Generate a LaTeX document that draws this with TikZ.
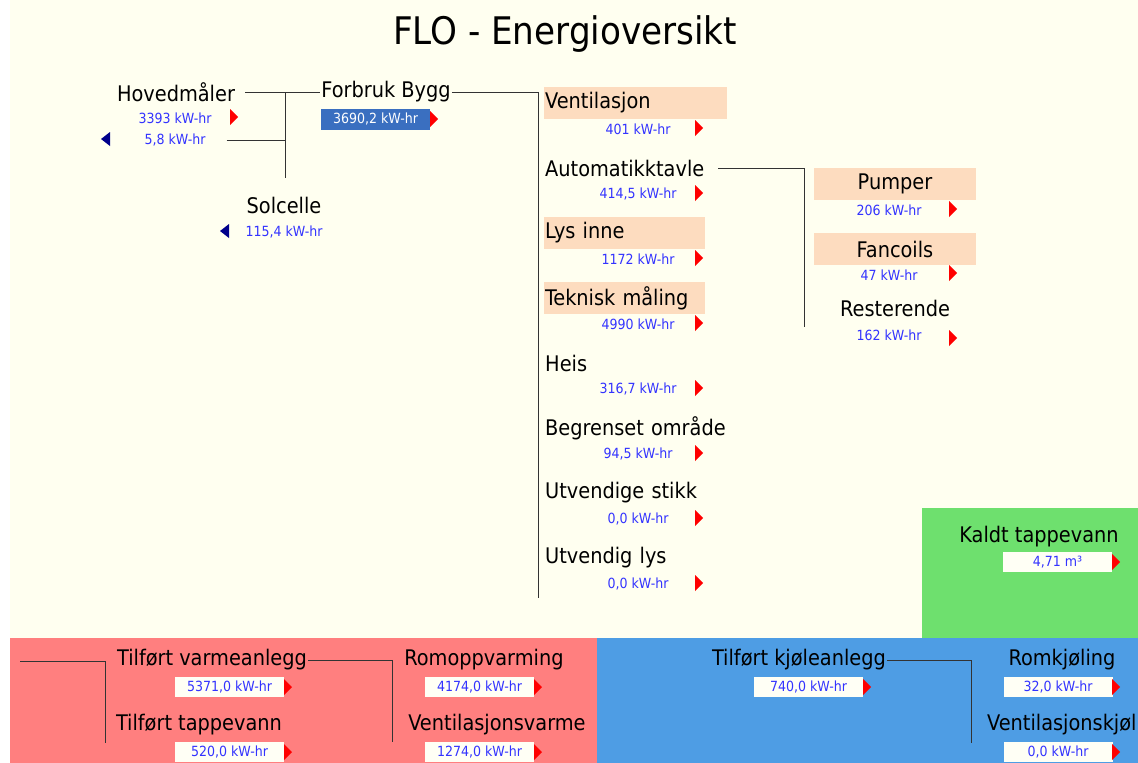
\documentclass[tikz,border=0pt]{standalone}
\usepackage{fontspec}
\setmainfont{DejaVu Sans Condensed}
\definecolor{cream}{HTML}{FFFFF0}
\definecolor{peach}{HTML}{FDDCBF}
\definecolor{byggblue}{HTML}{3A6FC0}
\definecolor{heatred}{HTML}{FF7F7F}
\definecolor{coolblue}{HTML}{4E9DE4}
\definecolor{coldgreen}{HTML}{6EE06E}
\definecolor{valblue}{HTML}{3333FF}
\definecolor{navy}{HTML}{00008B}
\definecolor{wiregray}{HTML}{333333}
\definecolor{boxwhite}{HTML}{FFFFF5}
\newcommand{\rtri}[2]{\fill[red] (#1,#2-8) -- (#1+8,#2) -- (#1,#2+8) -- cycle;}
\newcommand{\ltri}[2]{\fill[navy] (#1,#2) -- (#1+9,#2-7) -- (#1+9,#2+7) -- cycle;}
\begin{document}
\begin{tikzpicture}[x=1pt, y=-1pt,
    lbl/.style={font=\fontsize{21.5}{24}\selectfont, inner sep=1pt},
    val/.style={font=\fontsize{14}{16}\selectfont, text=valblue, inner sep=1pt},
    vbox/.style={val, fill=boxwhite, minimum width=109, minimum height=20},
    wire/.style={draw=wiregray, thick}]
\useasboundingbox (0,0) rectangle (1138,763);
\clip (0,0) rectangle (1138,763);
%panels
\fill[cream] (10,0) rectangle (1138,638);
\fill[coldgreen] (922,508) rectangle (1138,638);
\fill[heatred] (10,638) rectangle (597,763);
\fill[coolblue] (597,638) rectangle (1138,763);
\node[font=\fontsize{38}{42}\selectfont] at (565,34) (title) {FLO - Energioversikt};
%main meter
\node[lbl] at (176,92) (hoved) {Hovedmåler};
\node[val] at (175,118) (hovedinn) {3393 kW-hr};
\node[val] at (175,140) (hovedut) {5,8 kW-hr};
\node[lbl] at (284,205) (sol) {Solcelle};
\node[val] at (284,232) (solval) {115,4 kW-hr};
\node[lbl] at (386,92) (bygg) {Forbruk Bygg};
\node[val, fill=byggblue, text=white, minimum width=109, minimum height=21] at (375.5,119) (byggval) {3690,2 kW-hr};
\rtri{230}{117} \ltri{101}{139} \ltri{220}{231} \rtri{430}{119}
\coordinate (j1) at (285,92);
\coordinate (j1end) at (285,178);
\draw[wire] ([xshift=9]hoved.east) -- (bygg.west);
\draw[wire] (j1) -- (j1end);
\draw[wire] ([xshift=20]hovedut.east) -- (hovedut.east -| j1);
\coordinate (j2) at (538,598);
\draw[wire] (bygg.east) -| (j2);
%consumers
\foreach \i/\navn/\verdi/\bg/\w in {1/Ventilasjon/401 kW-hr/peach/181, 2/Automatikktavle/{414,5 kW-hr}/none/181,
    3/Lys inne/1172 kW-hr/peach/159, 4/Teknisk måling/4990 kW-hr/peach/159, 5/Heis/{316,7 kW-hr}/none/159,
    6/Begrenset område/{94,5 kW-hr}/none/181, 7/Utvendige stikk/{0,0 kW-hr}/none/159, 8/Utvendig lys/{0,0 kW-hr}/none/159} {
  \node[lbl, fill=\bg, anchor=west, text width=\w pt, minimum height=32, align=left] at (544,38+65*\i) (del\i) {\navn};
  \node[val] at (638,64+65*\i) (del\i val) {\verdi};
  \rtri{695}{63+65*\i}
}
\coordinate (j3) at (804,327);
\draw[wire] ([xshift=-9]del2.east) -| (j3);
\node[lbl, fill=peach, minimum width=162, minimum height=32] at (895,184) (pumper) {Pumper};
\node[val] at (889,210) (pumperval) {206 kW-hr};
\node[lbl, fill=peach, minimum width=162, minimum height=32] at (895,249) (fancoils) {Fancoils};
\node[val] at (889,275) (fancoilsval) {47 kW-hr};
\node[lbl] at (895,308) (rest) {Resterende};
\node[val] at (889,335) (restval) {162 kW-hr};
\rtri{949}{209} \rtri{949}{273} \rtri{949}{338}
%water
\node[lbl] at (1039,537) (kaldt) {Kaldt tappevann};
\node[vbox] at (1057.5,562) (kaldtval) {4,71 m³};
\rtri{1112}{562}
%heating
\coordinate (j4) at (20,661);
\coordinate (j4end) at (105,743);
\draw[wire] (j4) -| (j4end);
\node[lbl] at (212,660) (varme) {Tilført varmeanlegg};
\node[vbox] at (229.5,687) (varmeval) {5371,0 kW-hr};
\node[lbl] at (199,725) (tapp) {Tilført tappevann};
\node[vbox] at (229.5,752) (tappval) {520,0 kW-hr};
\coordinate (j5) at (392,742);
\draw[wire] (varme.east) -| (j5);
\node[lbl] at (484,660) (rom) {Romoppvarming};
\node[vbox] at (479.5,687) (romval) {4174,0 kW-hr};
\node[lbl] at (497,725) (ventv) {Ventilasjonsvarme};
\node[vbox] at (479.5,752) (ventvval) {1274,0 kW-hr};
\rtri{284}{687} \rtri{284}{752} \rtri{534}{687} \rtri{534}{752}
%cooling
\node[lbl] at (799,660) (kjol) {Tilført kjøleanlegg};
\node[vbox] at (808.5,687) (kjolval) {740,0 kW-hr};
\coordinate (j6) at (971,743);
\draw[wire] (kjol.east) -| (j6);
\node[lbl] at (1062,660) (romk) {Romkjøling};
\node[vbox] at (1058,687) (romkval) {32,0 kW-hr};
\node[lbl, anchor=west] at (986,725) (ventk) {Ventilasjonskjøl};
\node[vbox] at (1058,752) (ventkval) {0,0 kW-hr};
\rtri{863}{687} \rtri{1112}{687} \rtri{1112}{752}
\end{tikzpicture}
\end{document}
